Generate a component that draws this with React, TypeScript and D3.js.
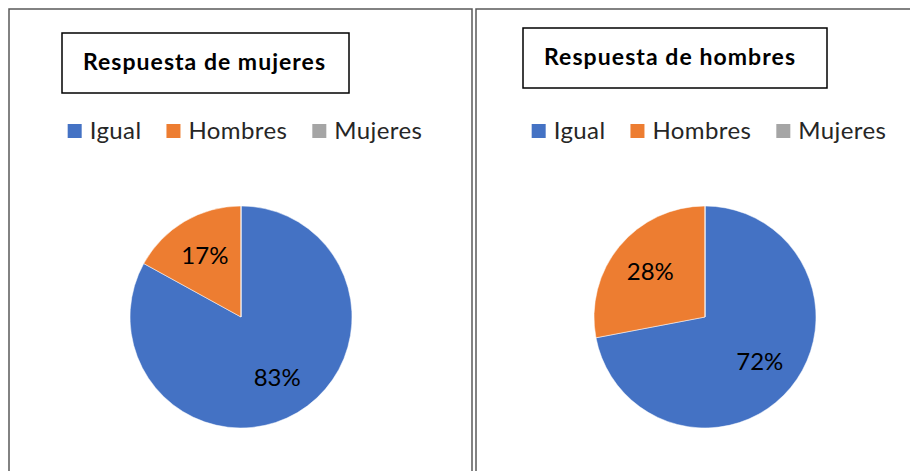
import React, { useRef, useEffect } from 'react';
import * as d3 from 'd3';

// data
const categories = ['Igual', 'Hombres', 'Mujeres'];
const colors = ['#4472C4', '#ED7D31', '#A5A5A5'];
const mujeresValues = [83, 17, 0];
const hombresValues = [72, 28, 0];
const titles = ['Respuesta de mujeres', 'Respuesta de hombres'];

const W = 917;
const H = 471;
const FONT = 'Lato, "Open Sans", sans-serif';

const App = () => {
  const svgRef = useRef<SVGSVGElement>(null);

  useEffect(() => {
    const svg = d3.select(svgRef.current);
    svg.selectAll('*').remove();

    const panels = [
      { x: 9, w: 463, right: true, values: mujeresValues, title: titles[0], titleY: 33, titleW: 287, titleX: 53, titleLen: 242 },
      { x: 476, w: 434, right: false, values: hombresValues, title: titles[1], titleY: 28, titleW: 304, titleX: 47, titleLen: 251 },
    ];

    const radius = 111;
    const pie = d3.pie<number>().sort(null).value(d => d);
    const arc = d3.arc<d3.PieArcDatum<number>>().innerRadius(0).outerRadius(radius);
    const labelArc = d3.arc<d3.PieArcDatum<number>>().innerRadius(radius * 0.64).outerRadius(radius * 0.64);

    panels.forEach((p, i) => {
      const g = svg.append('g').attr('transform', `translate(${p.x},9)`);

      // panel frame (left, top and maybe right edges; bottom is cut off)
      const frame = d3.path();
      frame.moveTo(0, H);
      frame.lineTo(0, 0);
      frame.lineTo(p.w, 0);
      if (p.right) frame.lineTo(p.w, H);
      g.append('path')
        .attr('d', frame.toString())
        .attr('fill', 'none')
        .attr('stroke', '#595959')
        .attr('stroke-width', 1.5);

      // title box
      const tb = g.append('g').attr('transform', `translate(${p.titleX},${p.titleY - 9})`);
      tb.append('rect')
        .attr('width', p.titleW).attr('height', 60)
        .attr('fill', 'white')
        .attr('stroke', '#000')
        .attr('stroke-width', 1.5);
      tb.append('text')
        .attr('x', 21).attr('y', 37)
        .attr('font-family', FONT)
        .attr('font-weight', 700)
        .attr('font-size', 23)
        .attr('textLength', p.titleLen)
        .attr('lengthAdjust', 'spacing')
        .attr('fill', '#000')
        .text(p.title);

      const cx = 232 - (i === 1 ? 3 : 0);
      const cy = 308;

      // legend, centred on the pie
      const legend = g.append('g');
      let lx = 0;
      categories.forEach((c, k) => {
        const item = legend.append('g').attr('transform', `translate(${lx},0)`);
        item.append('rect')
          .attr('x', 0).attr('y', 115)
          .attr('width', 14).attr('height', 14)
          .attr('fill', colors[k]);
        const t = item.append('text')
          .attr('x', 22).attr('y', 130)
          .attr('font-family', FONT)
          .attr('font-size', 24)
          .attr('letter-spacing', 0.4)
          .attr('fill', '#262626')
          .text(c);
        const tw = (t.node() as SVGTextElement).getComputedTextLength();
        lx += 22 + tw + 25;
      });
      const lw = lx - 25;
      legend.attr('transform', `translate(${cx - lw / 2 + 4},0)`);

      // pie
      const pg = g.append('g').attr('transform', `translate(${cx},${cy})`);
      const arcs = pie(p.values);
      pg.selectAll('path')
        .data(arcs)
        .join('path')
        .attr('d', arc)
        .attr('fill', (d, k) => colors[k])
        .attr('stroke', 'white')
        .attr('stroke-width', 0.5);

      pg.selectAll('text')
        .data(arcs.filter(d => d.data > 0))
        .join('text')
        .attr('transform', d => `translate(${labelArc.centroid(d)})`)
        .attr('text-anchor', 'middle')
        .attr('dy', '0.33em')
        .attr('font-family', FONT)
        .attr('font-size', 24)
        .attr('fill', '#000')
        .text(d => `${d.data}%`);
    });
  }, []);

  return (
    <svg
      ref={svgRef}
      width={W}
      height={H}
      style={{ position: 'absolute', left: 0, top: 0, background: 'white' }}
    />
  );
};

export default App;
